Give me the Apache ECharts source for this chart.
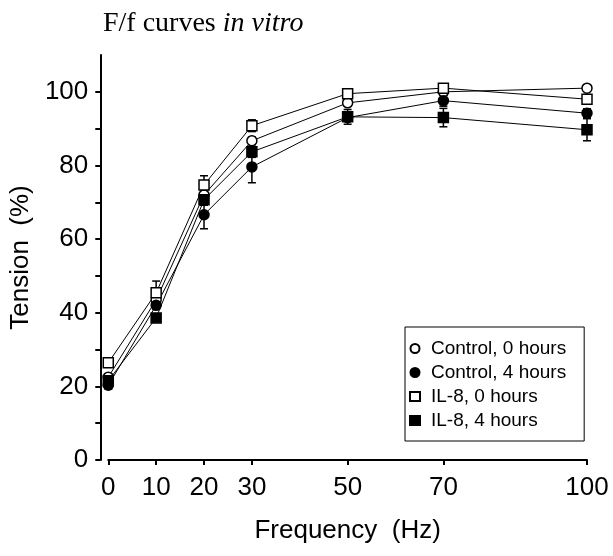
<!DOCTYPE html>
<html>
<head>
<meta charset="utf-8">
<script src="https://cdn.jsdelivr.net/npm/echarts@6/dist/echarts.min.js"></script>
<style>html,body{margin:0;padding:0;background:#fff;}#c{width:613px;height:556px;}</style>
</head>
<body>
<div id="c"></div>
<script>
var freq = [0, 10, 20, 30, 50, 70, 100];
var xTicks = [0, 10, 20, 30, 50, 70, 100];
var yTicks = [0, 10, 20, 30, 40, 50, 60, 70, 80, 90, 100];
var yLabels = [0, 20, 40, 60, 80, 100];
var ctrl0 = [22.5, 43.5, 72, 86.7, 97, 100, 101];
var ctrl4 = [20.3, 42, 66.6, 79.6, 93, 97.6, 94.2];
var il0 = [26.4, 45.4, 74.7, 90.8, 99.5, 101, 98];
var il4 = [21.5, 38.6, 70.7, 83.7, 93.2, 93, 89.7];
var ctrl0Err = [0.8, 1, 1, 1, 0.8, 0.8, 0.8];
var ctrl4Err = [1, 1, 3.8, 4.3, 1, 1.5, 1.2];
var il0Err = [0.8, 3.2, 2.5, 1.6, 0.6, 0.6, 0.6];
var il4Err = [1, 1, 1.5, 1.5, 2, 2.5, 3];
var names = ['Control, 0 hours', 'Control, 4 hours', 'IL-8, 0 hours', 'IL-8, 4 hours'];

function pts(vals) { return freq.map(function (f, i) { return [f, vals[i]]; }); }
function errPts(vals, err) { return freq.map(function (f, i) { return [f, vals[i] - err[i], vals[i] + err[i]]; }); }

function errSeries(vals, err) {
  return {
    type: 'custom',
    data: errPts(vals, err),
    z: 1,
    silent: true,
    renderItem: function (params, api) {
      var x = api.value(0);
      var lo = api.coord([x, api.value(1)]);
      var hi = api.coord([x, api.value(2)]);
      var w = 4;
      return {
        type: 'group',
        children: [
          { type: 'line', shape: { x1: lo[0], y1: lo[1], x2: hi[0], y2: hi[1] }, style: { stroke: '#000', lineWidth: 1.5 } },
          { type: 'line', shape: { x1: lo[0] - w, y1: lo[1], x2: lo[0] + w, y2: lo[1] }, style: { stroke: '#000', lineWidth: 1.5 } },
          { type: 'line', shape: { x1: hi[0] - w, y1: hi[1], x2: hi[0] + w, y2: hi[1] }, style: { stroke: '#000', lineWidth: 1.5 } }
        ]
      };
    }
  };
}

function lineSeries(name, vals, symbol, fill) {
  return {
    name: name,
    type: 'line',
    data: pts(vals),
    symbol: symbol,
    symbolSize: 10,
    showAllSymbol: true,
    z: 3,
    lineStyle: { color: '#000', width: 1 },
    itemStyle: { color: fill, borderColor: '#000', borderWidth: 1.5 },
    emphasis: { disabled: true }
  };
}

var chart = echarts.init(document.getElementById('c'));
chart.setOption({
  animation: false,
  backgroundColor: '#fff',
  title: {
    text: '{a|F/f curves }{b|in vitro}',
    left: 98,
    top: 5,
    textStyle: {
      fontWeight: 'normal',
      rich: {
        a: { fontFamily: 'Liberation Serif', fontSize: 28, fontWeight: 'normal', color: '#000' },
        b: { fontFamily: 'Liberation Serif', fontSize: 28, fontWeight: 'normal', fontStyle: 'italic', color: '#000' }
      }
    }
  },
  legend: {
    orient: 'vertical',
    left: 405,
    top: 327,
    padding: [12, 18, 11, 4],
    itemGap: 5,
    itemWidth: 10,
    itemHeight: 9,
    borderColor: '#000',
    borderWidth: 1,
    textStyle: { fontFamily: 'Liberation Sans', fontSize: 19, color: '#000', padding: [0, 0, 0, 6] },
    data: [
      { name: names[0], icon: 'circle' },
      { name: names[1], icon: 'circle' },
      { name: names[2], icon: 'rect' },
      { name: names[3], icon: 'rect' }
    ]
  },
  grid: { left: 105, right: 26, top: 55, bottom: 96, containLabel: false },
  xAxis: {
    type: 'value',
    min: 0,
    max: 100,
    name: 'Frequency  (Hz)',
    nameLocation: 'middle',
    nameGap: 58,
    nameTextStyle: { fontFamily: 'Liberation Sans', fontSize: 26, color: '#000' },
    axisLine: { onZero: false, lineStyle: { color: '#000', width: 2 } },
    axisTick: { show: true, length: 5, customValues: xTicks, lineStyle: { color: '#000', width: 2 } },
    axisLabel: { customValues: xTicks, fontFamily: 'Liberation Sans', fontSize: 26, color: '#000', margin: 15 },
    splitLine: { show: false }
  },
  yAxis: {
    type: 'value',
    min: 0,
    max: 110,
    offset: 8,
    name: 'Tension  (%)',
    nameLocation: 'middle',
    nameGap: 61,
    nameTextStyle: { fontFamily: 'Liberation Sans', fontSize: 26, color: '#000' },
    axisLine: { show: true, onZero: false, lineStyle: { color: '#000', width: 2 } },
    axisTick: { show: true, length: 5, customValues: yTicks, lineStyle: { color: '#000', width: 2 } },
    axisLabel: { customValues: yLabels, fontFamily: 'Liberation Sans', fontSize: 26, color: '#000', margin: 12 },
    splitLine: { show: false }
  },
  series: [
    errSeries(ctrl0, ctrl0Err),
    errSeries(ctrl4, ctrl4Err),
    errSeries(il0, il0Err),
    errSeries(il4, il4Err),
    lineSeries(names[0], ctrl0, 'circle', '#fff'),
    lineSeries(names[1], ctrl4, 'circle', '#000'),
    lineSeries(names[2], il0, 'rect', '#fff'),
    lineSeries(names[3], il4, 'rect', '#000')
  ]
});
</script>
</body>
</html>
